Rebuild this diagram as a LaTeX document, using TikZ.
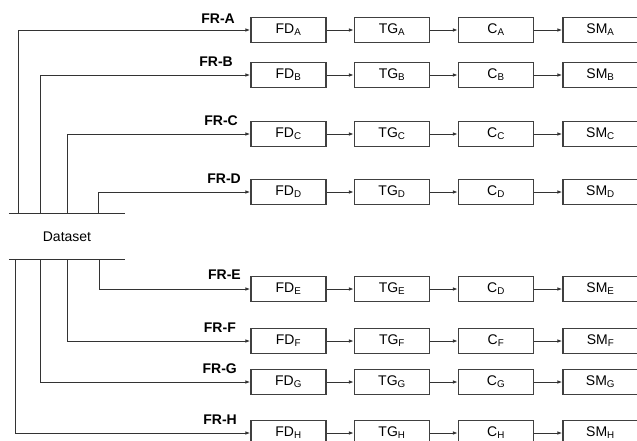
\documentclass[tikz,border=0pt]{standalone}
\usepackage{fontspec}
\setmainfont{Liberation Sans}
\usetikzlibrary{arrows.meta}

\newcommand{\lsub}[1]{\textsubscript{#1}}

\tikzset{
	blk/.style={shape=rectangle, draw=black!75, line width=1.1pt, minimum width=75pt, minimum height=25pt, inner sep=0pt, font=\fontsize{14}{16}\selectfont},
	frlbl/.style={anchor=base east, inner sep=0pt, font=\fontsize{14}{16}\selectfont\bfseries},
	wire/.style={draw=black!80, line width=1pt, -{Latex[length=5pt,width=3.5pt]}},
}

\begin{document}
\begin{tikzpicture}[x=1pt, y=-1pt]
	\useasboundingbox (0,0) rectangle (637,440);
	\clip (0,0) rectangle (637,440);
	% Dataset block:
	\node[minimum width=116pt, minimum height=45pt, inner sep=0pt, font=\fontsize{14}{16}\selectfont] (ds) at (67, 236.5){Dataset};
	\draw[black!80, line width=1.1pt] (ds.north west) -- (ds.north east);
	\draw[black!80, line width=1.1pt] (ds.south west) -- (ds.south east);
	% Rows, nodes:
	\node[blk] (fdA) at (288.5, 30){FD\lsub{A}};
	\node[blk] (tgA) at (392, 30){TG\lsub{A}};
	\node[blk] (cA) at (496, 30){C\lsub{A}};
	\node[blk] (smA) at (600.5, 30){SM\lsub{A}};
	\node[blk] (fdB) at (288.5, 75){FD\lsub{B}};
	\node[blk] (tgB) at (392, 75){TG\lsub{B}};
	\node[blk] (cB) at (496, 75){C\lsub{B}};
	\node[blk] (smB) at (600.5, 75){SM\lsub{B}};
	\node[blk] (fdC) at (288.5, 134){FD\lsub{C}};
	\node[blk] (tgC) at (392, 134){TG\lsub{C}};
	\node[blk] (cC) at (496, 134){C\lsub{C}};
	\node[blk] (smC) at (600.5, 134){SM\lsub{C}};
	\node[blk] (fdD) at (288.5, 192){FD\lsub{D}};
	\node[blk] (tgD) at (392, 192){TG\lsub{D}};
	\node[blk] (cD) at (496, 192){C\lsub{D}};
	\node[blk] (smD) at (600.5, 192){SM\lsub{D}};
	\node[blk] (fdE) at (288.5, 289){FD\lsub{E}};
	\node[blk] (tgE) at (392, 289){TG\lsub{E}};
	\node[blk] (cE) at (496, 289){C\lsub{D}};
	\node[blk] (smE) at (600.5, 289){SM\lsub{E}};
	\node[blk] (fdF) at (288.5, 341){FD\lsub{F}};
	\node[blk] (tgF) at (392, 341){TG\lsub{F}};
	\node[blk] (cF) at (496, 341){C\lsub{F}};
	\node[blk] (smF) at (600.5, 341){SM\lsub{F}};
	\node[blk] (fdG) at (288.5, 382){FD\lsub{G}};
	\node[blk] (tgG) at (392, 382){TG\lsub{G}};
	\node[blk] (cG) at (496, 382){C\lsub{G}};
	\node[blk] (smG) at (600.5, 382){SM\lsub{G}};
	\node[blk] (fdH) at (288.5, 433){FD\lsub{H}};
	\node[blk] (tgH) at (392, 433){TG\lsub{H}};
	\node[blk] (cH) at (496, 433){C\lsub{H}};
	\node[blk] (smH) at (600.5, 433){SM\lsub{H}};
	% Labels:
	\node[frlbl] (lblA) at (235, 23){FR-A};
	\node[frlbl] (lblB) at (233, 66){FR-B};
	\node[frlbl] (lblC) at (238, 125){FR-C};
	\node[frlbl] (lblD) at (241, 183){FR-D};
	\node[frlbl] (lblE) at (241, 279){FR-E};
	\node[frlbl] (lblF) at (236, 332){FR-F};
	\node[frlbl] (lblG) at (237, 373){FR-G};
	\node[frlbl] (lblH) at (237, 424){FR-H};
	% Feeders from the dataset:
	\draw[wire] ([xshift=10pt]ds.north west) |- (fdA.west);
	\draw[wire] ([xshift=32pt]ds.north west) |- (fdB.west);
	\draw[wire] ([xshift=59pt]ds.north west) |- (fdC.west);
	\draw[wire] ([xshift=90pt]ds.north west) |- (fdD.west);
	\draw[wire] ([xshift=91pt]ds.south west) |- (fdE.west);
	\draw[wire] ([xshift=59pt]ds.south west) |- (fdF.west);
	\draw[wire] ([xshift=32pt]ds.south west) |- (fdG.west);
	\draw[wire] ([xshift=7pt]ds.south west) |- (fdH.west);
	% Wires along the rows:
	\draw[wire] (fdA) -- (tgA); \draw[wire] (tgA) -- (cA); \draw[wire] (cA) -- (smA);
	\draw[wire] (fdB) -- (tgB); \draw[wire] (tgB) -- (cB); \draw[wire] (cB) -- (smB);
	\draw[wire] (fdC) -- (tgC); \draw[wire] (tgC) -- (cC); \draw[wire] (cC) -- (smC);
	\draw[wire] (fdD) -- (tgD); \draw[wire] (tgD) -- (cD); \draw[wire] (cD) -- (smD);
	\draw[wire] (fdE) -- (tgE); \draw[wire] (tgE) -- (cE); \draw[wire] (cE) -- (smE);
	\draw[wire] (fdF) -- (tgF); \draw[wire] (tgF) -- (cF); \draw[wire] (cF) -- (smF);
	\draw[wire] (fdG) -- (tgG); \draw[wire] (tgG) -- (cG); \draw[wire] (cG) -- (smG);
	\draw[wire] (fdH) -- (tgH); \draw[wire] (tgH) -- (cH); \draw[wire] (cH) -- (smH);
\end{tikzpicture}
\end{document}
